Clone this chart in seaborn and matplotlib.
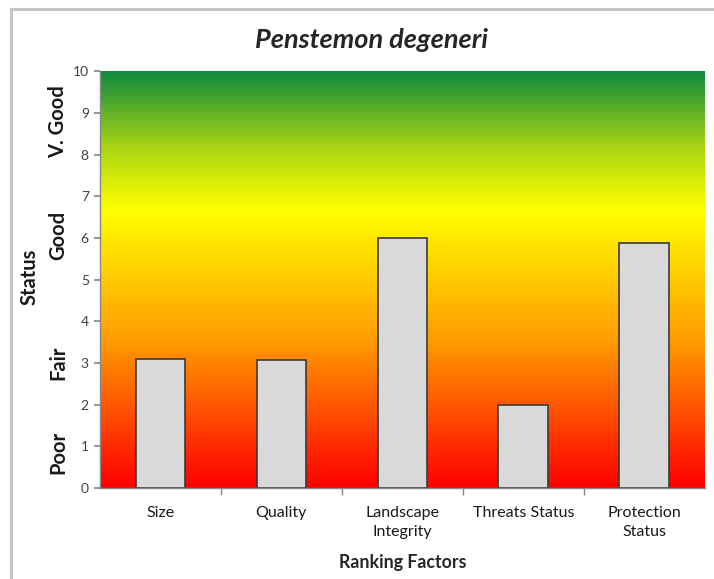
import matplotlib.pyplot as plt
import matplotlib.patches as mpatches
from matplotlib.colors import LinearSegmentedColormap
from matplotlib.transforms import blended_transform_factory
import seaborn as sns
import numpy as np
import pandas as pd

sns.set_theme(style="white")
plt.rcParams['font.family'] = ['Lato', 'DejaVu Sans']

factors = ["Size", "Quality", "Landscape\nIntegrity", "Threats Status", "Protection\nStatus"]
scores = [3.09, 3.07, 6.0, 2.0, 5.87]
status_labels = ["Poor", "Fair", "Good", "V. Good"]
status_pos = [0.85, 3.0, 6.05, 8.8]

df = pd.DataFrame({"factor": factors, "score": scores})

fig = plt.figure(figsize=(7.14, 5.79), dpi=100)
ax = fig.add_axes([0.140, 0.157, 0.847, 0.720])

# red -> orange -> yellow -> green background
cmap = LinearSegmentedColormap.from_list(
    "status", [(0.0, "#ff0000"), (0.35, "#ff9a00"), (0.67, "#ffff00"),
               (0.82, "#a8d414"), (1.0, "#0e8a40")])
grad = np.linspace(0, 1, 256).reshape(-1, 1)
ax.imshow(grad, cmap=cmap, origin="lower", aspect="auto",
          extent=(-0.5, 4.5, 0, 10), zorder=0)

sns.barplot(data=df, x="factor", y="score", color="#d9d9d9", width=0.41,
            edgecolor="#3a3a3a", linewidth=1.2, saturation=1, ax=ax, zorder=2)

ax.set_xlim(-0.5, 4.5)
ax.set_ylim(0, 10)
ax.set_yticks(range(0, 11))
ax.tick_params(axis="y", labelsize=10, labelcolor="#404040", length=4,
               color="#888888", left=True, pad=4)
ax.tick_params(axis="x", labelsize=11.5, labelcolor="#1a1a1a", length=0, pad=13)
ax.set_xticks(range(len(factors)))
ax.set_xticklabels(factors, linespacing=1.45)
ax.set_xticks(np.arange(0.5, 4.5, 1.0), minor=True)
ax.tick_params(axis="x", which="minor", length=5, color="#888888", bottom=True)

for s in ["top", "right"]:
    ax.spines[s].set_visible(False)
for s in ["left", "bottom"]:
    ax.spines[s].set_color("#888888")
    ax.spines[s].set_linewidth(1)

ax.set_xlabel("Ranking Factors", fontsize=12.8, fontweight="bold", labelpad=11)
ax.set_ylabel("")
fig.text(371 / 714, 1 - 40 / 579, "Penstemon degeneri", fontsize=19.5,
         fontweight="bold", fontstyle="italic", ha="center", va="center")

trans = blended_transform_factory(fig.transFigure, ax.transData)
for lab, pos in zip(status_labels, status_pos):
    ax.text(58 / 714, pos, lab, transform=trans, rotation=90, ha="center",
            va="center", fontsize=14.5, fontweight="bold", color="#1a1a1a")
fig.text(30 / 714, 1 - 277 / 579, "Status", rotation=90, ha="center",
         va="center", fontsize=14.5, fontweight="bold", color="#1a1a1a")

# chart-area frame
fig.patches.append(mpatches.Rectangle((11 / 714, -0.05), 1.1, 1 - 9 / 579 + 0.05,
                                      transform=fig.transFigure, fill=False,
                                      edgecolor="#c4c4c4", linewidth=2.2))

fig.savefig("out.png", dpi=100)
